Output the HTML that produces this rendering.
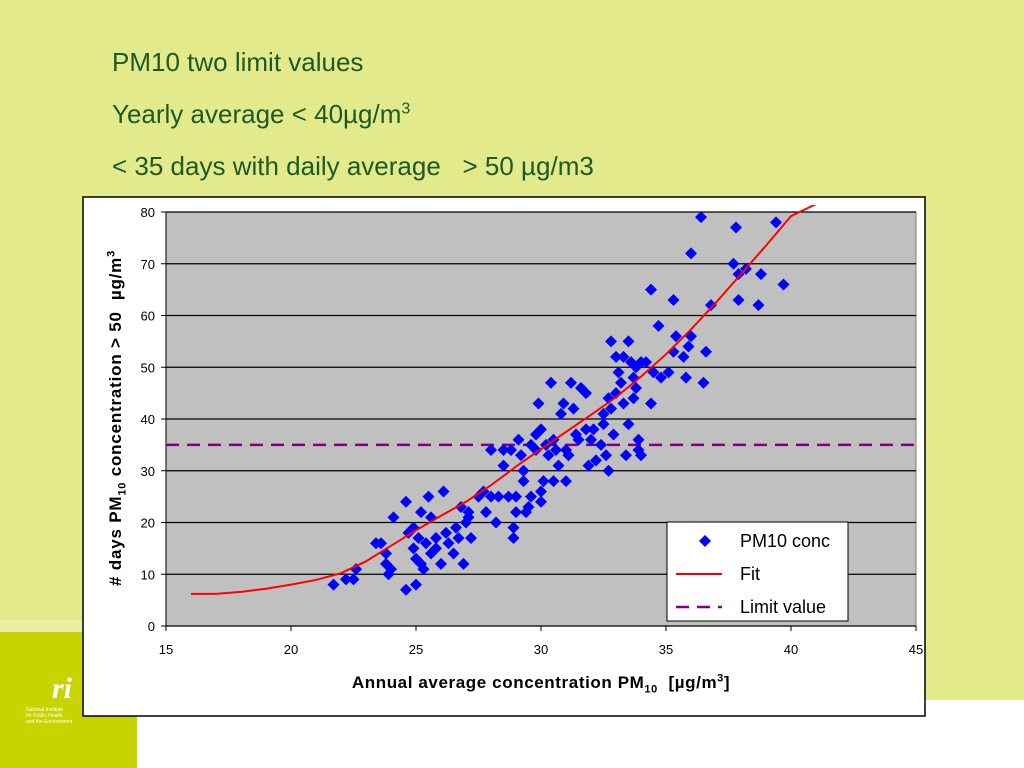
<!DOCTYPE html>
<html><head><meta charset="utf-8"><style>
body{margin:0;width:1024px;height:768px;overflow:hidden;background:#e3ea8c;font-family:"Liberation Sans",sans-serif;position:relative}
.t{position:absolute;left:112px;color:#1d5a23;font-size:26px}
</style></head><body>
<div style="position:absolute;left:0;top:632px;width:137px;height:136px;background:#c8d400"></div>
<div style="position:absolute;left:0;top:620px;width:137px;height:12px;background:#e8efa0"></div>
<div style="position:absolute;left:137px;top:700px;width:887px;height:68px;background:#fff"></div>
<div style="position:absolute;left:52px;top:672px;color:#fff;font-family:'Liberation Serif',serif;font-style:italic;font-weight:bold;font-size:30px">ri</div>
<div style="position:absolute;left:26px;top:707px;color:#fff;font-size:5px;line-height:6px">National Institute<br>for Public Health<br>and the Environment</div>
<div class="t" style="top:47px">PM10 two limit values</div>
<div class="t" style="top:99px">Yearly average &lt; 40µg/m<sup style="font-size:16px">3</sup></div>
<div class="t" style="top:151px">&lt; 35 days with daily average &nbsp; &gt; 50 µg/m3</div>
<svg id="c" width="1024" height="768" style="position:absolute;left:0;top:0" font-family="Liberation Sans, sans-serif"></svg>
<script>
const xs=[21.7,22.2,22.5,22.6,23.4,23.6,23.8,23.8,23.9,24.1,24.0,24.6,24.6,24.7,24.9,25.0,24.9,25.0,25.1,25.2,25.3,25.2,25.5,25.6,25.4,25.6,25.8,25.8,26.1,26.0,26.2,26.3,26.5,26.6,26.7,26.8,26.9,27.0,27.1,27.2,27.1,27.5,27.7,27.8,28.0,28.0,28.2,28.3,28.5,28.5,28.7,28.8,28.9,28.9,29.0,29.0,29.1,29.2,29.3,29.3,29.4,29.5,29.6,29.6,29.8,29.8,29.9,30.0,30.0,30.0,30.1,30.2,30.3,30.4,30.5,30.5,30.6,30.7,30.8,30.9,31.0,31.0,31.1,31.2,31.3,31.4,31.5,31.6,31.8,31.8,31.9,32.0,32.1,32.2,32.4,32.5,32.5,32.6,32.7,32.7,32.8,32.8,32.9,33.0,33.0,33.1,33.2,33.3,33.3,33.4,33.5,33.5,33.6,33.7,33.7,33.8,33.8,33.9,33.9,34.0,34.0,34.2,34.4,34.4,34.5,34.7,34.8,35.1,35.3,35.3,35.4,35.7,35.8,35.9,36.0,36.0,36.4,36.5,36.6,36.8,37.7,37.8,37.9,37.9,38.2,38.7,38.8,39.4,39.7];
const ys=[8,9,9,11,16,16,14,12,10,21,11,7,24,18,19,8,15,13,17,12,11,22,25,21,16,14,17,15,26,12,18,16,14,19,17,23,12,20,22,17,21,25,26,22,25,34,20,25,34,31,25,34,17,19,25,22,36,33,30,28,22,23,25,35,37,34,43,38,26,24,28,35,33,47,36,28,34,31,41,43,28,34,33,47,42,37,36,46,45,38,31,36,38,32,35,41,39,33,30,44,55,42,37,52,45,49,47,52,43,33,39,55,51,44,48,46,50,36,34,33,51,51,43,65,49,58,48,49,63,53,56,52,48,54,72,56,79,47,53,62,70,77,63,68,69,62,68,78,66];
const fitX=[16,17,18,19,20,21,22,23,24,25,26,27,28,29,30,31,32,33,34,35,36,37,38,39,40,41.2];
const fitY=[6.2,6.2,6.6,7.2,8,8.9,10.2,12.5,15.5,18.5,21.3,24,27.2,30.8,34.2,37.5,40.8,44.2,48.2,52.5,57.3,62.5,68,73.5,79.2,82];
const limit=35;
const xTicks=[15,20,25,30,35,40,45];
const yTicks=[0,10,20,30,40,50,60,70,80];
const NS='http://www.w3.org/2000/svg',s=document.getElementById('c');
const X=v=>166+(v-15)*25, Y=v=>626-v*5.175;
function el(t,a,p){const e=document.createElementNS(NS,t);for(const k in a)e.setAttribute(k,a[k]);(p||s).appendChild(e);return e;}
const fr=el('rect',{x:83,y:197,width:842,height:519,fill:'#fff',stroke:'#000','stroke-width':1.5});


const pa=el('rect',{x:166,y:212,width:750,height:414,fill:'#c0c0c0',stroke:'#808080'});


const clip=el('clipPath',{id:'cp'});el('rect',{x:166,y:205,width:750,height:421},clip);
yTicks.forEach(v=>{
 const g=el('line',{x1:166,x2:916,y1:Y(v),y2:Y(v),stroke:'#000','stroke-width':1.2});
 
 
 el('line',{x1:161,x2:166,y1:Y(v),y2:Y(v),stroke:'#000'});
 const t=el('text',{x:155,y:Y(v)+5,'text-anchor':'end','font-size':13});t.textContent=v;
 
 
});
xTicks.forEach(v=>{
 el('line',{x1:X(v),x2:X(v),y1:626,y2:631,stroke:'#000'});
 const t=el('text',{x:X(v),y:654,'text-anchor':'middle','font-size':13});t.textContent=v;
 
 
});
el('line',{x1:166,x2:916,y1:626,y2:626,stroke:'#000'});
el('line',{x1:166,x2:166,y1:212,y2:626,stroke:'#000'});
const lim=el('line',{x1:166,x2:916,y1:Y(limit),y2:Y(limit),stroke:'#800080','stroke-width':2.5,'stroke-dasharray':'13,8'});


xs.forEach((x,i)=>{const cx=X(x),cy=Y(ys[i]);
 const p=el('polygon',{points:`${cx},${cy-6} ${cx+6},${cy} ${cx},${cy+6} ${cx-6},${cy}`,fill:'#0000ff'});
 
 
});
const fit=el('polyline',{points:fitX.map((x,i)=>X(x)+','+Y(fitY[i])).join(' '),fill:'none',stroke:'#ff0000','stroke-width':2,'clip-path':'url(#cp)'});


const lg=el('g',{});


el('rect',{x:667,y:522,width:181,height:99,fill:'#fff',stroke:'#000'},lg);
el('polygon',{points:'705,535 711,541 705,547 699,541',fill:'#0000ff'},lg);
el('line',{x1:676,x2:722,y1:574,y2:574,stroke:'#ff0000','stroke-width':2},lg);
el('line',{x1:676,x2:722,y1:607,y2:607,stroke:'#800080','stroke-width':2.5,'stroke-dasharray':'13,8'},lg);
[['PM10 conc',547],['Fit',580],['Limit value',613]].forEach(([t,y])=>{const e=el('text',{x:740,y:y,'font-size':18},lg);e.textContent=t;
 
 });
</script>
<div style="position:absolute;left:541px;top:684px;transform:translate(-50%,-50%);font-size:17px;font-weight:bold;white-space:nowrap;letter-spacing:0.6px">Annual average concentration PM<sub style="font-size:11px">10</sub> &nbsp;[µg/m<sup style="font-size:11px">3</sup>]</div>
<div style="position:absolute;left:117px;top:418px;transform:translate(-50%,-50%) rotate(-90deg);font-size:17px;font-weight:bold;white-space:nowrap;letter-spacing:0.8px"># days PM<sub style="font-size:11px">10</sub> concentration &gt; 50 &nbsp;µg/m<sup style="font-size:11px">3</sup></div>
</body></html>
